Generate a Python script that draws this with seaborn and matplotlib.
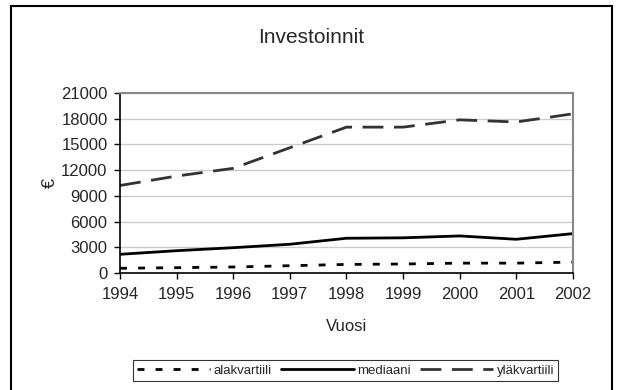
import pandas as pd
import seaborn as sns
import matplotlib.pyplot as plt
from matplotlib.patches import Rectangle

years = [1994, 1995, 1996, 1997, 1998, 1999, 2000, 2001, 2002]
alakvartiili = [550, 620, 700, 850, 1000, 1050, 1150, 1150, 1270]
mediaani = [2180, 2600, 2950, 3350, 4050, 4100, 4320, 3930, 4590]
ylakvartiili = [10200, 11300, 12200, 14600, 17000, 17000, 17850, 17600, 18550]
series_names = ["alakvartiili", "mediaani", "yläkvartiili"]
y_ticks = list(range(0, 21001, 3000))

df = pd.DataFrame({
    "Vuosi": years * 3,
    "value": alakvartiili + mediaani + ylakvartiili,
    "series": [n for n in series_names for _ in years],
})

sns.set_style("white")
plt.rcParams["font.family"] = ["Liberation Sans", "DejaVu Sans"]

fig = plt.figure(figsize=(6.22, 3.90), dpi=100)
ax = fig.add_axes([0.193, 0.30, 0.728, 0.462])

palette = {"alakvartiili": "black", "mediaani": "black", "yläkvartiili": "#333333"}
dashes = {"alakvartiili": (2.5, 4), "mediaani": "", "yläkvartiili": (7.5, 3.8)}
sns.lineplot(data=df, x="Vuosi", y="value", hue="series", style="series",
             palette=palette, dashes=dashes, linewidth=2, ax=ax, legend=False)

ax.set_xlim(years[0], years[-1])
ax.set_ylim(0, 21000)
ax.set_xticks(years)
ax.set_yticks(y_ticks)
ax.tick_params(axis="both", labelsize=12, direction="out", length=4, width=1,
               color="black", left=True, bottom=True)
ax.tick_params(axis="x", pad=6)
ax.tick_params(axis="y", pad=5)
ax.grid(axis="y", color="#cccccc", linewidth=1)
ax.set_axisbelow(True)
for side in ["top", "right"]:
    ax.spines[side].set_color("#888888")
    ax.spines[side].set_linewidth(1.5)
for side in ["left", "bottom"]:
    ax.spines[side].set_color("black")
    ax.spines[side].set_linewidth(1.2)

ax.set_xlabel("Vuosi", fontsize=12, labelpad=12)
ax.set_ylabel("€", fontsize=13, labelpad=2)

fig.text(0.5, 0.905, "Investoinnit", ha="center", va="center", fontsize=15)

handles = [line for line in ax.get_lines()]
handles = sorted(handles, key=lambda h: max(h.get_ydata()))
leg = fig.legend(handles, series_names, loc="center", bbox_to_anchor=(0.556, 0.05),
                 ncol=3, fontsize=9.5, frameon=True, fancybox=False,
                 handlelength=5.5, handletextpad=0.3, columnspacing=0.7,
                 borderpad=0.3, borderaxespad=0)
leg.get_frame().set_edgecolor("black")
leg.get_frame().set_linewidth(0.8)

fig.patches.append(Rectangle((11 / 622, -0.05), 601 / 622, 1.05 - 6 / 390,
                             transform=fig.transFigure, fill=False,
                             edgecolor="black", linewidth=1.5))

fig.savefig("out.png", dpi=100)
